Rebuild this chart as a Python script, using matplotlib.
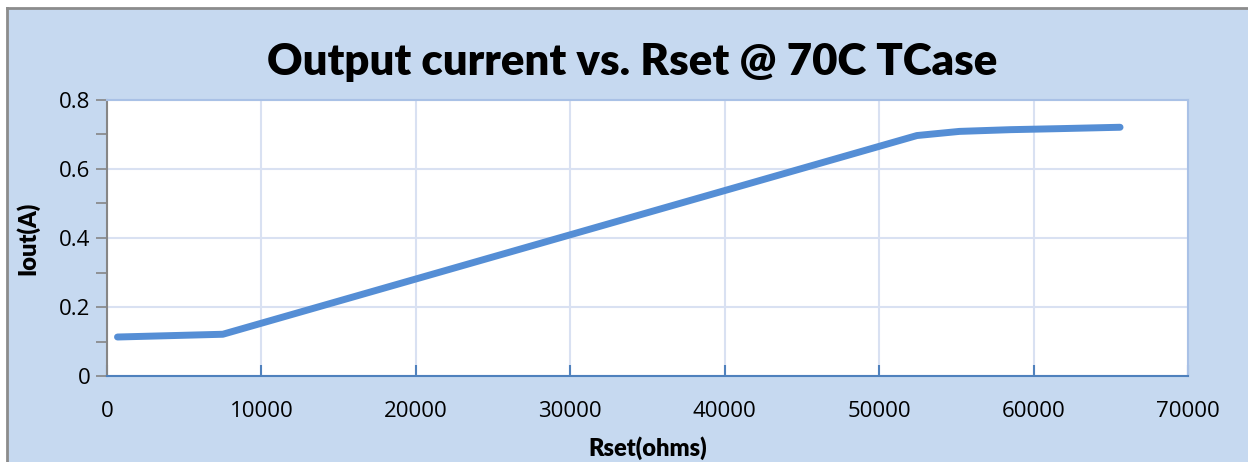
import matplotlib
matplotlib.use("Agg")
import matplotlib.pyplot as plt
from matplotlib.patches import Rectangle
from matplotlib.lines import Line2D
from matplotlib.ticker import MultipleLocator

rset_ohms = [680, 7500, 52450, 55200, 58500, 61700, 65600]
iout_amps = [0.113, 0.121, 0.697, 0.709, 0.714, 0.717, 0.721]

x_ticks = [0, 10000, 20000, 30000, 40000, 50000, 60000, 70000]
y_ticks = [0, 0.2, 0.4, 0.6, 0.8]
y_tick_labels = ["0", "0.2", "0.4", "0.6", "0.8"]

title = "Output current vs. Rset @ 70C TCase"
x_label = "Rset(ohms)"
y_label = "Iout(A)"

W, H = 1248, 462
fig = plt.figure(figsize=(W / 100, H / 100), dpi=100)
fig.patch.set_facecolor("white")

bg = "#C6D9F0"
fig.patches.append(Rectangle((7 / W, 0), 1 - 7 / W, 1 - 8 / H, transform=fig.transFigure,
                             facecolor=bg, edgecolor="none", zorder=-2))
fig.lines.append(Line2D([6.5 / W, 6.5 / W], [0, 1 - 8 / H], transform=fig.transFigure,
                        color="#8C8C8C", lw=2.0))
fig.lines.append(Line2D([6.5 / W, 1], [1 - 8 / H, 1 - 8 / H], transform=fig.transFigure,
                        color="#8C8C8C", lw=2.0))

left, right, bottom, top = 107 / W, 1188 / W, 1 - 376 / H, 1 - 100 / H
ax = fig.add_axes([left, bottom, right - left, top - bottom])
ax.set_facecolor("white")

ax.plot(rset_ohms, iout_amps, color="#558ED5", lw=5, solid_capstyle="round",
        solid_joinstyle="round", zorder=3)

ax.set_xlim(0, 70000)
ax.set_ylim(0, 0.8)
ax.set_xticks(x_ticks)
ax.set_xticklabels([str(v) for v in x_ticks])
ax.set_yticks(y_ticks)
ax.set_yticklabels(y_tick_labels)
ax.yaxis.set_minor_locator(MultipleLocator(0.1))

ax.grid(True, which="major", color="#D9E1F2", lw=1.5)
ax.set_axisbelow(True)

for s in ["top", "right"]:
    ax.spines[s].set_color("#A9C1E6")
    ax.spines[s].set_linewidth(1.5)
ax.spines["left"].set_color("#868686")
ax.spines["left"].set_linewidth(1.5)
ax.spines["bottom"].set_color("#4F81BD")
ax.spines["bottom"].set_linewidth(1.5)

ax.tick_params(axis="y", which="both", direction="out", color="#868686", width=1.2,
               length=8, labelsize=16, pad=4)
ax.tick_params(axis="x", which="major", direction="in", color="#4F81BD", width=1.5,
               length=8, labelsize=16, pad=18)

fnt = ["Lato", "DejaVu Sans"]
for lab in ax.get_xticklabels() + ax.get_yticklabels():
    lab.set_fontfamily("Open Sans")

fig.text(0.5 * (272 + 993) / W, 1 - 62 / H, title, ha="center", va="center",
         fontsize=31.5, fontweight="heavy", family=fnt)
ax.set_xlabel(x_label, fontsize=17, fontweight="heavy", family=fnt, labelpad=10)
ax.set_ylabel(y_label, fontsize=17, fontweight="heavy", family=fnt, labelpad=14)

fig.savefig("out.png", dpi=100, facecolor=fig.get_facecolor())
